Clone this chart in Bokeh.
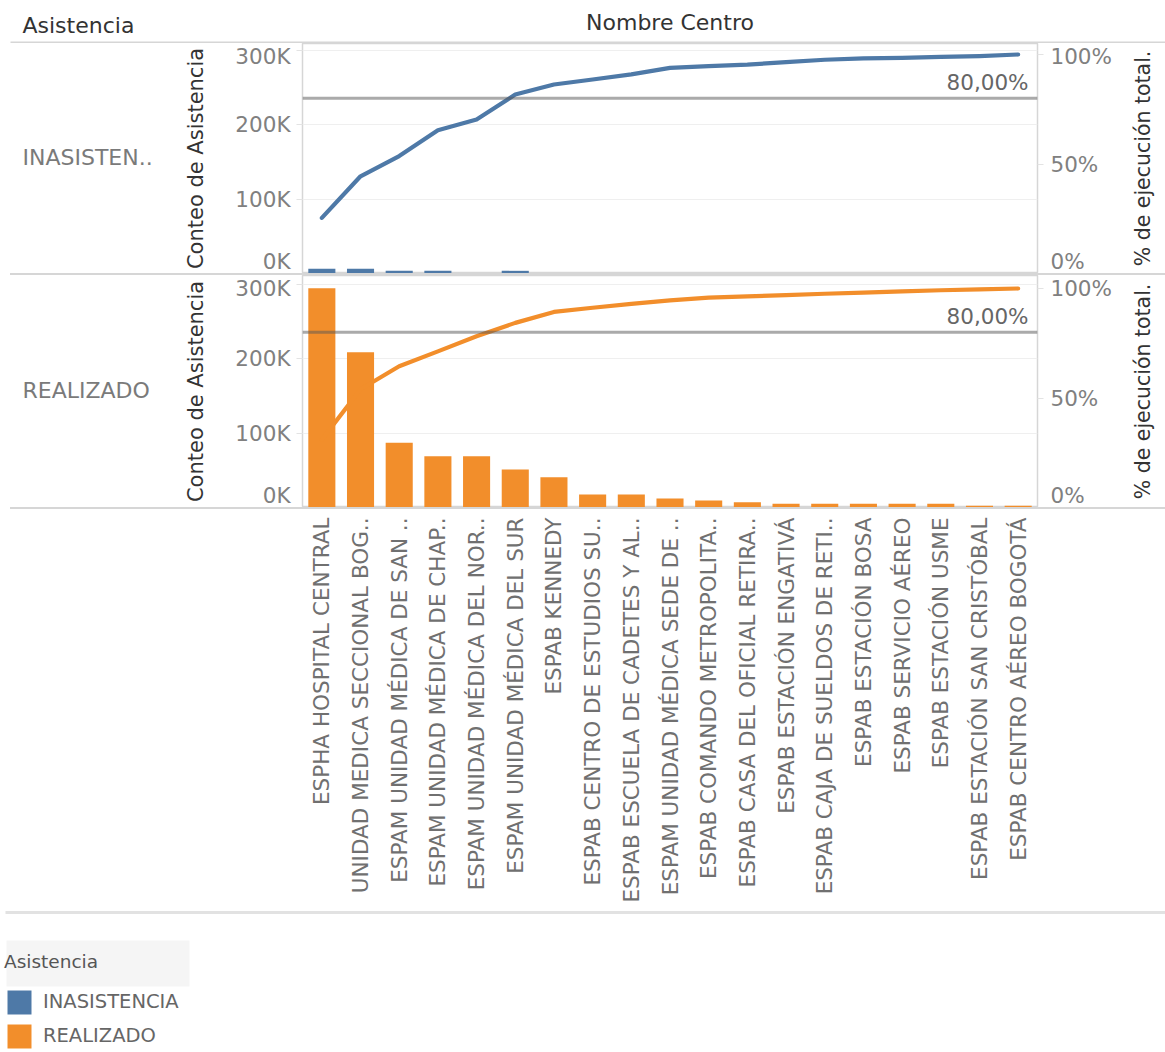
from math import pi
from bokeh.plotting import figure
from bokeh.models import (FactorRange, Range1d, LinearAxis, FixedTicker, CustomJSTickFormatter,
                          Span, Label, BoxAnnotation, Legend, LegendItem, ColumnDataSource, Div)
from bokeh.layouts import column, row
from bokeh.embed import file_html
from bokeh.resources import INLINE

# ---------------- data ----------------
centros = [
    "ESPHA HOSPITAL CENTRAL",
    "UNIDAD MEDICA SECCIONAL BOG..",
    "ESPAM UNIDAD MÉDICA DE SAN ..",
    "ESPAM UNIDAD MÉDICA DE CHAP..",
    "ESPAM UNIDAD MÉDICA DEL NOR..",
    "ESPAM UNIDAD MÉDICA DEL SUR",
    "ESPAB KENNEDY",
    "ESPAB CENTRO DE ESTUDIOS SU..",
    "ESPAB ESCUELA DE CADETES Y AL..",
    "ESPAM UNIDAD MÉDICA SEDE DE ..",
    "ESPAB COMANDO METROPOLITA..",
    "ESPAB CASA DEL OFICIAL RETIRA..",
    "ESPAB ESTACIÓN ENGATIVÁ",
    "ESPAB CAJA DE SUELDOS DE RETI..",
    "ESPAB ESTACIÓN BOSA",
    "ESPAB SERVICIO AÉREO",
    "ESPAB ESTACIÓN USME",
    "ESPAB ESTACIÓN SAN CRISTÓBAL",
    "ESPAB CENTRO AÉREO BOGOTÁ",
]
inasistencia = [6300, 6300, 3600, 3600, 0, 3600, 0, 0, 0, 0, 0, 0, 0, 0, 0, 0, 0, 0, 0]
realizado = [295000, 209000, 87000, 69000, 69000, 51000, 40600, 17400, 17400, 12000,
             9400, 7100, 5000, 5000, 5000, 5000, 5000, 2300, 2300]
pct_inasistencia = [0.254, 0.444, 0.536, 0.654, 0.703, 0.817, 0.863, 0.886, 0.909, 0.939,
                    0.947, 0.954, 0.965, 0.976, 0.982, 0.985, 0.989, 0.993, 1.0]
pct_realizado = [0.31, 0.54, 0.645, 0.713, 0.782, 0.843, 0.893, 0.912, 0.93, 0.946,
                 0.958, 0.964, 0.970, 0.976, 0.981, 0.987, 0.992, 0.996, 1.0]
asistencia = ["INASISTENCIA", "REALIZADO"]
row_labels = ["INASISTEN..", "REALIZADO"]
count_ticks = [0, 100000, 200000, 300000]
pct_ticks = [0, 0.5, 1.0]
ref_pct = 0.8
ref_text = "80,00%"
header_row = "Asistencia"
header_col = "Nombre Centro"
left_title = "Conteo de Asistencia"
right_title_text = "% de ejecución total."

# ---------------- style / geometry ----------------
FONT = "DejaVu Sans"
BLUE = "#4e79a7"
ORANGE = "#f28e2b"
SEP = "#d6d6d6"
W = 1165
HDR_W = 180          # row-header column
LEFT = 122           # left axis area inside panel figure
RIGHT = 88           # right axis area inside panel figure
FRAME_W = 735
PANEL_W = LEFT + FRAME_W + RIGHT
RT_W = W - HDR_W - PANEL_W   # right-title column
PX_PER_COUNT = 223 / 300000.0
PX_PER_PCT = 219.0


def no_align(p):
    if "frame_align" in p.properties():
        p.frame_align = False
    return p


def plain_fig(w, h, bg="white"):
    p = figure(width=w, height=h, x_range=Range1d(0, w), y_range=Range1d(0, h),
               output_backend="svg", toolbar_location=None, tools="", min_border=0,
               x_axis_location=None, y_axis_location=None)
    p.grid.visible = False
    p.outline_line_color = None
    p.background_fill_color = bg
    p.border_fill_color = bg
    return no_align(p)


def hline(p, x0, x1, y, thick=2, color=SEP):
    p.add_layout(BoxAnnotation(left=x0, right=x1, bottom=y - thick / 2, top=y + thick / 2,
                               fill_color=color, fill_alpha=1, line_color=None))


def strip():
    return Div(text="", width=W - 10, height=2, margin=(0, 0, 0, 10),
               styles={"background-color": SEP})


def make_panel(vals, pcts, color, height):
    count_end = height / PX_PER_COUNT
    pct_end = height / PX_PER_PCT
    p = figure(width=PANEL_W, height=height, x_range=x_range,
               y_range=Range1d(0, count_end), output_backend="svg", toolbar_location=None,
               tools="", x_axis_location=None,
               min_border_left=LEFT, min_border_right=RIGHT,
               min_border_top=0, min_border_bottom=0)
    no_align(p)
    p.extra_y_ranges = {"pct": Range1d(0, pct_end)}
    p.background_fill_color = "white"
    p.border_fill_color = "white"
    p.outline_line_color = SEP
    p.outline_line_width = 1.5
    p.xgrid.grid_line_color = None

    ax = p.yaxis[0]
    ax.ticker = FixedTicker(ticks=count_ticks)
    ax.formatter = CustomJSTickFormatter(code="return (tick/1000).toFixed(0) + 'K';")
    ax.axis_label = left_title
    ax.axis_label_text_font = FONT
    ax.axis_label_text_font_size = "21px"
    ax.axis_label_text_font_style = "normal"
    ax.axis_label_text_color = "#333333"
    ax.axis_label_standoff = 24
    ax.major_label_text_font = FONT
    ax.major_label_text_font_size = "21.5px"
    ax.major_label_text_color = "#808080"
    ax.major_label_standoff = 6
    ax.major_tick_out = 6
    ax.major_tick_in = 0
    ax.major_tick_line_color = "#e3e3e3"
    ax.minor_tick_line_color = None
    ax.axis_line_color = None

    p.ygrid.ticker = FixedTicker(ticks=count_ticks[1:])
    p.ygrid.grid_line_color = "#efefef"

    rax = LinearAxis(y_range_name="pct", ticker=FixedTicker(ticks=pct_ticks),
                     formatter=CustomJSTickFormatter(code="return (tick*100).toFixed(0) + '%';"))
    rax.major_label_text_font = FONT
    rax.major_label_text_font_size = "21.5px"
    rax.major_label_text_color = "#808080"
    rax.major_label_standoff = 7
    rax.major_tick_out = 6
    rax.major_tick_in = 0
    rax.major_tick_line_color = "#e3e3e3"
    rax.minor_tick_line_color = None
    rax.axis_line_color = None
    p.add_layout(rax, "right")

    src = ColumnDataSource(dict(x=centros, top=vals, pct=pcts))
    p.vbar(x="x", top="top", width=0.7, source=src, fill_color=color, line_color=None)
    p.line(x="x", y="pct", source=src, y_range_name="pct", line_color=color,
           line_width=4.2, line_join="round", line_cap="round")

    p.add_layout(Span(location=ref_pct, dimension="width", y_range_name="pct",
                      line_color="#555555", line_alpha=0.5, line_width=3))
    p.add_layout(Label(x=FRAME_W - 9, y=ref_pct, x_units="screen", y_range_name="pct",
                       text=ref_text, text_align="right", text_baseline="alphabetic",
                       y_offset=16, text_font=FONT, text_font_size="21.5px",
                       text_color="#666666"))
    return p


def row_header(text, height):
    p = plain_fig(HDR_W, height)
    p.add_layout(Label(x=22, y=height / 2 + 1, text=text, text_align="left",
                       text_baseline="middle", text_font=FONT, text_font_size="22px",
                       text_color="#7a7a7a"))
    return p


def right_title(height):
    p = plain_fig(RT_W, height)
    p.add_layout(Label(x=17, y=height / 2, text=right_title_text, angle=pi / 2,
                       text_align="center", text_baseline="middle", text_font=FONT,
                       text_font_size="20.5px", text_color="#333333"))
    return p


x_range = FactorRange(factors=centros)

# header (0..43)
hdr = plain_fig(W, 43)
hline(hdr, 10, W, 1)
hdr.add_layout(Label(x=22, y=18, text=header_row, text_align="left", text_baseline="middle",
                     text_font=FONT, text_font_size="22px", text_color="#333333"))
hdr.add_layout(Label(x=HDR_W + LEFT + FRAME_W / 2, y=21, text=header_col, text_align="center",
                     text_baseline="middle", text_font=FONT, text_font_size="22px",
                     text_color="#333333"))

# top panel row (43..273)
p1 = make_panel(inasistencia, pct_inasistencia, BLUE, 230)
row1 = row(row_header(row_labels[0], 230), p1, right_title(230))

# bottom panel row (275..507)
p2 = make_panel(realizado, pct_realizado, ORANGE, 232)
row2 = row(row_header(row_labels[1], 232), p2, right_title(232))

# category axis (509..905)
xf = figure(width=W, height=396, x_range=x_range, y_range=Range1d(0, 1),
            output_backend="svg", toolbar_location=None, tools="",
            y_axis_location=None, x_axis_location="below",
            min_border_left=HDR_W + LEFT, min_border_right=RIGHT + RT_W,
            min_border_top=0, min_border_bottom=395)
no_align(xf)
xf.grid.visible = False
xf.outline_line_color = None
xf.background_fill_color = "white"
xf.border_fill_color = "white"
xa = xf.xaxis[0]
xa.major_label_orientation = pi / 2
xa.major_label_text_font = FONT
xa.major_label_text_font_size = "21.5px"
xa.major_label_text_color = "#707070"
xa.major_label_standoff = 7
xa.major_tick_line_color = None
xa.major_tick_out = 0
xa.major_tick_in = 0
xa.axis_line_color = None

# footer with legend (905..1052)
f = plain_fig(W, 147)
hline(f, 5, W, 140, thick=3, color="#e2e2e2")
f.add_layout(BoxAnnotation(left=6, right=189, bottom=66, top=112,
                           fill_color="#f5f5f5", fill_alpha=1, line_color=None))
nan = float("nan")
r1 = f.rect(x=[nan], y=[nan], width=1, height=1, fill_color=BLUE, line_color=None)
r2 = f.rect(x=[nan], y=[nan], width=1, height=1, fill_color=ORANGE, line_color=None)
legend = Legend(items=[LegendItem(label=asistencia[0], renderers=[r1]),
                       LegendItem(label=asistencia[1], renderers=[r2])],
                location=(4, 1.5), title=header_row)
legend.background_fill_alpha = 0
legend.border_line_color = None
legend.padding = 2
legend.margin = 0
legend.spacing = 4
legend.glyph_width = 30
legend.glyph_height = 30
legend.label_standoff = 9
legend.label_text_font = FONT
legend.label_text_font_size = "19.5px"
legend.label_text_color = "#666666"
legend.title_text_font = FONT
legend.title_text_font_size = "18.5px"
legend.title_text_font_style = "normal"
legend.title_text_color = "#555555"
legend.title_standoff = 15
f.add_layout(legend)

layout = column(hdr, row1, strip(), row2, strip(), xf, f)
open("out.html", "w").write(file_html(layout, INLINE))
